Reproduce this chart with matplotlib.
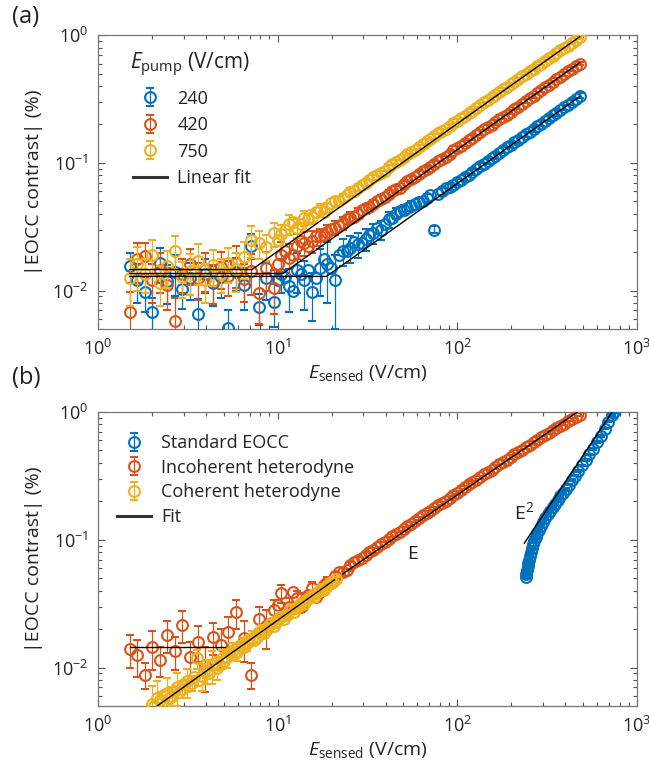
#!/usr/bin/env python3
"""Log-log EOCC contrast vs sensed field: (a) pump-field series with
piecewise linear fits, (b) standard EOCC vs (in)coherent heterodyne."""
import matplotlib
matplotlib.use("Agg")
import matplotlib.pyplot as plt
from matplotlib.lines import Line2D
from matplotlib.ticker import NullFormatter, LogLocator

plt.rcParams["font.family"] = ["Open Sans", "DejaVu Sans"]
plt.rcParams["mathtext.fontset"] = "custom"
plt.rcParams["mathtext.rm"] = "Open Sans"
plt.rcParams["mathtext.it"] = "Open Sans:italic"
plt.rcParams["mathtext.bf"] = "Open Sans:bold"

BLUE, ORANGE, YELLOW = "#0072BD", "#D95319", "#EDB120"
FS = 13

# ---- shared sensed-field grid (V/cm) ----
e_sensed = [1.50, 1.65, 1.82, 2.00, 2.20, 2.43, 2.68, 2.95, 3.26, 3.59,
            3.96, 4.37, 4.82, 5.31, 5.86, 6.46, 7.12, 7.85, 8.66, 9.55,
            10.5, 11.6, 12.8, 14.1, 15.6, 17.2, 18.9, 20.9, 23.0, 25.4,
            28.0, 30.9, 34.0, 37.5, 41.4, 45.6, 50.3, 55.5, 61.2, 67.5,
            74.4, 82.0, 90.5, 99.8, 110, 121, 134, 148, 163, 180,
            198, 218, 241, 266, 293, 323, 356, 393, 433, 480]
# interleaved sweep points above 10 V/cm (error bars hidden by markers)
e_mid = [10.0, 11.05, 12.2, 13.4, 14.8, 16.4, 18.0, 19.9, 21.9, 24.2,
         26.7, 29.4, 32.4, 35.7, 39.4, 43.5, 47.9, 52.8, 58.3, 64.3,
         70.9, 78.1, 86.1, 95.0, 105, 116, 127, 141, 155, 171,
         189, 208, 229, 253, 279, 308, 339, 374, 412, 456]

# ---- panel (a): E_pump = 240, 420, 750 V/cm ----
pump_labels = ["240", "420", "750"]
c240 = [0.0155, 0.0120, 0.0098, 0.0068, 0.0165, 0.0118, 0.0140, 0.0102, 0.0125, 0.0066,
        0.0135, 0.0115, 0.0128, 0.0051, 0.0140, 0.0110, 0.0225, 0.0074, 0.0125, 0.0082,
        0.0135, 0.0108, 0.0145, 0.0120, 0.0098, 0.0150, 0.0160, 0.0120, 0.0205, 0.0215,
        0.0230, 0.0255, 0.0280, 0.0300, 0.0360, 0.0400, 0.0430, 0.0460, 0.0490, 0.0530,
        0.0300, 0.0600, 0.0650, 0.0710, 0.0770, 0.0850, 0.0940, 0.1040, 0.1140, 0.1260,
        0.1380, 0.1520, 0.1680, 0.1850, 0.2030, 0.2240, 0.2460, 0.2720, 0.3000, 0.3350]
e240 = [0.004, 0.004, 0.003, 0.002, 0.005, 0.004, 0.005, 0.003, 0.004, 0.002,
        0.004, 0.004, 0.004, 0.002, 0.004, 0.004, 0.005, 0.002, 0.004, 0.003,
        0.004, 0.004, 0.005, 0.005, 0.004, 0.006, 0.008, 0.007, 0.005, 0.005,
        0.005, 0.005, 0.005, 0.005, 0.005, 0.004, 0.004, 0.004, 0.004, 0.004,
        0.002, 0.004, 0.004, 0.004, 0.005, 0.005, 0.005, 0.006, 0.006, 0.007,
        0.007, 0.008, 0.008, 0.009, 0.010, 0.011, 0.012, 0.013, 0.014, 0.015]
c240_mid = [0.0120, 0.0128, 0.0100, 0.0135, 0.0145, 0.0125, 0.0175, 0.0150, 0.0190, 0.0205,
            0.0240, 0.0235, 0.0270, 0.0310, 0.0330, 0.0370, 0.0420, 0.0440, 0.0480, 0.0505,
            0.0560, 0.0575, 0.0630, 0.0675, 0.0740, 0.0810, 0.0895, 0.0985, 0.1090, 0.1200,
            0.1320, 0.1450, 0.1600, 0.1760, 0.1940, 0.2130, 0.2350, 0.2590, 0.2860, 0.3170]
c420 = [0.0068, 0.0175, 0.0185, 0.0120, 0.0145, 0.0110, 0.0058, 0.0135, 0.0160, 0.0125,
        0.0148, 0.0118, 0.0152, 0.0130, 0.0165, 0.0122, 0.0142, 0.0095, 0.0150, 0.0105,
        0.0190, 0.0180, 0.0225, 0.0235, 0.0245, 0.0265, 0.0285, 0.0310, 0.0340, 0.0370,
        0.0400, 0.0440, 0.0475, 0.0520, 0.0570, 0.0620, 0.0680, 0.0745, 0.0820, 0.0900,
        0.0985, 0.1080, 0.1180, 0.1300, 0.1430, 0.1570, 0.1730, 0.1900, 0.2080, 0.2290,
        0.2510, 0.2760, 0.3050, 0.3360, 0.3700, 0.4080, 0.4500, 0.4960, 0.5460, 0.6000]
e420 = [0.003, 0.006, 0.005, 0.004, 0.005, 0.004, 0.003, 0.004, 0.005, 0.004,
        0.005, 0.004, 0.005, 0.004, 0.006, 0.004, 0.005, 0.004, 0.005, 0.004,
        0.005, 0.005, 0.005, 0.005, 0.005, 0.004, 0.004, 0.004, 0.004, 0.004,
        0.004, 0.004, 0.004, 0.004, 0.004, 0.004, 0.004, 0.005, 0.005, 0.005,
        0.005, 0.005, 0.006, 0.006, 0.007, 0.007, 0.008, 0.008, 0.009, 0.010,
        0.010, 0.011, 0.012, 0.013, 0.014, 0.015, 0.016, 0.018, 0.019, 0.020]
c420_mid = [0.0160, 0.0205, 0.0190, 0.0245, 0.0225, 0.0265, 0.0270, 0.0305, 0.0320, 0.0365,
            0.0380, 0.0430, 0.0450, 0.0505, 0.0540, 0.0605, 0.0640, 0.0725, 0.0770, 0.0870,
            0.0930, 0.1040, 0.1120, 0.1250, 0.1360, 0.1510, 0.1640, 0.1830, 0.1980, 0.2200,
            0.2390, 0.2650, 0.2890, 0.3220, 0.3520, 0.3900, 0.4280, 0.4740, 0.5200, 0.5750]
c750 = [0.0125, 0.0160, 0.0135, 0.0190, 0.0115, 0.0155, 0.0205, 0.0128, 0.0142, 0.0170,
        0.0120, 0.0158, 0.0135, 0.0165, 0.0148, 0.0182, 0.0250, 0.0235, 0.0220, 0.0280,
        0.0275, 0.0330, 0.0310, 0.0370, 0.0380, 0.0430, 0.0445, 0.0500, 0.0530, 0.0590,
        0.0640, 0.0700, 0.0770, 0.0830, 0.0920, 0.1010, 0.1110, 0.1220, 0.1340, 0.1470,
        0.1610, 0.1770, 0.1940, 0.2130, 0.2340, 0.2570, 0.2840, 0.3120, 0.3420, 0.3760,
        0.4120, 0.4520, 0.4980, 0.5480, 0.6000, 0.6600, 0.7250, 0.7950, 0.8700, 0.9600]
e750 = [0.005, 0.006, 0.004, 0.006, 0.004, 0.005, 0.006, 0.004, 0.005, 0.006,
        0.004, 0.005, 0.004, 0.005, 0.005, 0.006, 0.007, 0.006, 0.005, 0.006,
        0.005, 0.006, 0.005, 0.005, 0.005, 0.005, 0.004, 0.004, 0.004, 0.004,
        0.004, 0.004, 0.004, 0.004, 0.004, 0.005, 0.005, 0.005, 0.005, 0.006,
        0.006, 0.006, 0.007, 0.007, 0.008, 0.008, 0.009, 0.010, 0.010, 0.011,
        0.012, 0.013, 0.014, 0.015, 0.016, 0.017, 0.018, 0.020, 0.022, 0.024]
c750_mid = [0.0250, 0.0300, 0.0345, 0.0330, 0.0360, 0.0415, 0.0410, 0.0485, 0.0505, 0.0565,
            0.0605, 0.0675, 0.0730, 0.0805, 0.0870, 0.0975, 0.1050, 0.1170, 0.1270, 0.1410,
            0.1530, 0.1700, 0.1850, 0.2050, 0.2230, 0.2470, 0.2700, 0.2980, 0.3260, 0.3600,
            0.3930, 0.4330, 0.4750, 0.5230, 0.5720, 0.6300, 0.6920, 0.7600, 0.8300, 0.9150]
# piecewise fits: flat floor up to knee, then slope 1
fit_floor = [0.0129, 0.0136, 0.0146]
fit_knee = [18.7, 10.7, 7.2]
fit_span = [1.5, 480]

# ---- panel (b) ----
incoh = [0.0140, 0.0125, 0.0088, 0.0145, 0.0115, 0.0180, 0.0135, 0.0215, 0.0120, 0.0160,
         0.0105, 0.0175, 0.0150, 0.0190, 0.0270, 0.0170, 0.0088, 0.0240, 0.0210, 0.0280,
         0.0380, 0.0300, 0.0350, 0.0330, 0.0420, 0.0400, 0.0470, 0.0520, 0.0560, 0.0630,
         0.0690, 0.0760, 0.0830, 0.0920, 0.1010, 0.1110, 0.1220, 0.1340, 0.1470, 0.1610,
         0.1760, 0.1930, 0.2130, 0.2340, 0.2570, 0.2820, 0.3090, 0.3390, 0.3710, 0.4060,
         0.4440, 0.4860, 0.5310, 0.5800, 0.6320, 0.6880, 0.7480, 0.8120, 0.8800, 0.9550]
incoh_err = [0.004, 0.004, 0.002, 0.005, 0.003, 0.005, 0.004, 0.006, 0.004, 0.005,
             0.004, 0.005, 0.005, 0.006, 0.007, 0.006, 0.002, 0.006, 0.007, 0.006,
             0.006, 0.005, 0.005, 0.005, 0.005, 0.004, 0.004, 0.004, 0.004, 0.004,
             0.004, 0.004, 0.004, 0.004, 0.004, 0.005, 0.005, 0.005, 0.005, 0.006,
             0.006, 0.006, 0.007, 0.007, 0.008, 0.008, 0.009, 0.010, 0.011, 0.012,
             0.013, 0.014, 0.015, 0.016, 0.017, 0.018, 0.020, 0.022, 0.024, 0.026]
incoh_mid = [0.0310, 0.0270, 0.0390, 0.0300, 0.0370, 0.0360, 0.0440, 0.0455, 0.0560, 0.0580,
             0.0670, 0.0725, 0.0800, 0.0880, 0.0965, 0.1070, 0.1160, 0.1290, 0.1400, 0.1550,
             0.1680, 0.1860, 0.2020, 0.2250, 0.2450, 0.2710, 0.2950, 0.3250, 0.3540, 0.3900,
             0.4240, 0.4660, 0.5080, 0.5560, 0.6050, 0.6600, 0.7180, 0.7800, 0.8450, 0.9200]
coh_e = [2.00, 2.13, 2.27, 2.42, 2.58, 2.75, 2.93, 3.12, 3.33, 3.55,
         3.78, 4.03, 4.30, 4.58, 4.88, 5.20, 5.55, 5.91, 6.30, 6.72,
         7.16, 7.63, 8.13, 8.67, 9.24, 9.85, 10.5, 11.2, 11.9, 12.7,
         13.5, 14.4, 15.4, 16.4, 17.5, 18.6, 19.8, 21.0]
coh = [0.0052, 0.0058, 0.0054, 0.0063, 0.0060, 0.0070, 0.0068, 0.0078, 0.0076, 0.0118,
       0.0086, 0.0094, 0.0105, 0.0100, 0.0118, 0.0120, 0.0135, 0.0132, 0.0150, 0.0155,
       0.0172, 0.0175, 0.0195, 0.0200, 0.0222, 0.0228, 0.0250, 0.0260, 0.0285, 0.0295,
       0.0322, 0.0335, 0.0365, 0.0380, 0.0415, 0.0430, 0.0470, 0.0490]
coh_err = [0.002, 0.002, 0.001, 0.002, 0.001, 0.002, 0.001, 0.002, 0.001, 0.002,
           0.002, 0.002, 0.003, 0.002, 0.002, 0.002, 0.002, 0.002, 0.002, 0.002,
           0.002, 0.002, 0.002, 0.002, 0.002, 0.002, 0.002, 0.002, 0.002, 0.002,
           0.002, 0.002, 0.002, 0.002, 0.002, 0.002, 0.002, 0.002]
coh_e2 = [2.06, 2.20, 2.34, 2.50, 2.66, 2.84, 3.02, 3.22, 3.44, 3.66,
          3.90, 4.16, 4.44, 4.73, 5.04, 5.37, 5.73, 6.10, 6.51, 6.94,
          7.39, 7.88, 8.40, 8.95, 9.54, 10.2, 10.8, 11.5, 12.3, 13.1,
          14.0, 14.9, 15.9, 16.9, 18.0, 19.2, 20.4]
coh2 = [0.0050, 0.0056, 0.0061, 0.0058, 0.0066, 0.0064, 0.0075, 0.0072, 0.0085, 0.0080,
        0.0094, 0.0090, 0.0108, 0.0105, 0.0112, 0.0130, 0.0128, 0.0148, 0.0145, 0.0168,
        0.0165, 0.0190, 0.0186, 0.0215, 0.0210, 0.0243, 0.0240, 0.0275, 0.0272, 0.0310,
        0.0312, 0.0350, 0.0355, 0.0398, 0.0405, 0.0452, 0.0470]
std_e = [240, 242, 244, 246, 248, 250, 253, 256, 260, 264,
         268, 273, 279, 285, 292, 300, 309, 318, 328, 339,
         350, 362, 375, 388, 402, 418, 434, 452, 472, 494,
         518, 543, 570, 598, 628, 660, 693, 725, 745]
std = [0.051, 0.054, 0.058, 0.062, 0.066, 0.070, 0.075, 0.080, 0.086, 0.092,
       0.098, 0.105, 0.113, 0.120, 0.129, 0.138, 0.148, 0.158, 0.169, 0.180,
       0.192, 0.205, 0.219, 0.234, 0.251, 0.270, 0.292, 0.318, 0.347, 0.382,
       0.420, 0.465, 0.515, 0.580, 0.650, 0.740, 0.840, 0.950, 1.000]
std_err = [0.001, 0.001, 0.001, 0.001, 0.001, 0.001, 0.001, 0.001, 0.002, 0.002,
           0.002, 0.002, 0.002, 0.002, 0.002, 0.002, 0.003, 0.003, 0.003, 0.003,
           0.003, 0.003, 0.004, 0.004, 0.004, 0.004, 0.005, 0.005, 0.005, 0.006,
           0.006, 0.007, 0.007, 0.008, 0.009, 0.010, 0.011, 0.012, 0.013]
# fits in panel (b): (x0, x1, y0, slope)
floor_fit = (1.5, 5.1, 0.0146, 0.0)
coh_fit = (2.13, 20.7, 0.0050, 1.0)
incoh_fit = (23.0, 464.0, 0.054, 0.97)
std_fit = (236.0, 726.0, 0.094, 2.1)

MS, MEW = 7.8, 1.5
INK = "#222222"


def style_axes(ax):
    ax.set_xscale("log")
    ax.set_yscale("log")
    ax.set_xlim(1, 1000)
    ax.set_ylim(0.005, 1)
    ax.yaxis.set_major_locator(LogLocator(base=10, numticks=10))
    ax.xaxis.set_minor_formatter(NullFormatter())
    ax.yaxis.set_minor_formatter(NullFormatter())
    ax.tick_params(which="both", direction="in", top=True, right=True,
                   color="#555555", width=0.8, labelsize=FS, pad=7,
                   labelcolor=INK)
    ax.tick_params(which="major", length=5)
    ax.tick_params(which="minor", length=2.8)
    for sp in ax.spines.values():
        sp.set_color("#777777")
        sp.set_linewidth(0.9)
    ax.set_xlabel(r"$E_{\mathrm{sensed}}$ (V/cm)", fontsize=FS + 1,
                  color=INK, labelpad=3)
    ax.set_ylabel("|EOCC contrast| (%)", fontsize=FS + 1, color=INK,
                  labelpad=6)


def ebar(ax, x, y, e, col, z):
    return ax.errorbar(x, y, yerr=e, fmt="o", ms=MS, mfc="none", mec=col,
                       mew=MEW, ecolor=col, elinewidth=0.9, capsize=3.2,
                       capthick=0.9, color=col, zorder=z)


def dots(ax, x, y, col, z):
    ax.plot(x, y, "o", ms=MS, mfc="none", mec=col, mew=MEW, zorder=z)


def seg(ax, fit):
    x0, x1, y0, k = fit
    ax.plot([x0, x1], [y0, y0 * (x1 / x0) ** k], color="black", lw=1.0,
            zorder=10)


fig = plt.figure(figsize=(6.49, 7.65), dpi=100)
ax_a = fig.add_axes([0.151, 0.570, 0.8305, 0.384])
ax_b = fig.add_axes([0.151, 0.077, 0.8305, 0.3845])

# ---- (a) ----
handles = []
series_a = [(c240, e240, c240_mid, BLUE), (c420, e420, c420_mid, ORANGE),
            (c750, e750, c750_mid, YELLOW)]
for i, (c, e, cm, col) in enumerate(series_a):
    handles.append(ebar(ax_a, e_sensed, c, e, col, 3 + i))
    dots(ax_a, e_mid, cm, col, 3 + i)
for fl, kn in zip(fit_floor, fit_knee):
    xs = [fit_span[0], kn, fit_span[1]]
    ys = [fl * max(1.0, x / kn) for x in xs]
    ax_a.plot(xs, ys, color="black", lw=1.0, zorder=10)
style_axes(ax_a)
ax_a.text(0.059, 0.898, r"$E_{\mathrm{pump}}$ (V/cm)", transform=ax_a.transAxes,
          fontsize=FS + 2, color=INK, ha="left", va="center")
fit_h = Line2D([], [], color="#333333", lw=2.2)
leg = ax_a.legend(handles + [fit_h], pump_labels + ["Linear fit"],
                  loc="upper left", bbox_to_anchor=(0.065, 0.815),
                  frameon=False, fontsize=FS, handlelength=1.9,
                  handletextpad=0.55, labelspacing=0.47, borderaxespad=0.0,
                  borderpad=0.0)
for t in leg.get_texts():
    t.set_color(INK)

# ---- (b) ----
hb = [ebar(ax_b, std_e, std, std_err, BLUE, 3),
      ebar(ax_b, e_sensed, incoh, incoh_err, ORANGE, 4),
      ebar(ax_b, coh_e, coh, coh_err, YELLOW, 5)]
dots(ax_b, e_mid, incoh_mid, ORANGE, 4)
dots(ax_b, coh_e2, coh2, YELLOW, 5)
for f in (floor_fit, coh_fit, incoh_fit, std_fit):
    seg(ax_b, f)
ax_b.text(56, 0.078, "E", fontsize=FS + 1, ha="center", va="center",
          color=INK)
ax_b.text(236, 0.165, r"E$^2$", fontsize=FS + 1, ha="center", va="center",
          color=INK)
style_axes(ax_b)
legb = ax_b.legend(hb + [Line2D([], [], color="#333333", lw=2.2)],
                   ["Standard EOCC", "Incoherent heterodyne",
                    "Coherent heterodyne", "Fit"],
                   loc="upper left", bbox_to_anchor=(0.035, 0.925),
                   frameon=False, fontsize=FS, handlelength=1.9,
                   handletextpad=0.55, labelspacing=0.37, borderaxespad=0.0,
                   borderpad=0.0)
for t in legb.get_texts():
    t.set_color(INK)

fig.text(0.018, 0.993, "(a)", fontsize=FS + 4, va="top", color=INK)
fig.text(0.018, 0.521, "(b)", fontsize=FS + 4, va="top", color=INK)

fig.savefig("out.png", dpi=100)
